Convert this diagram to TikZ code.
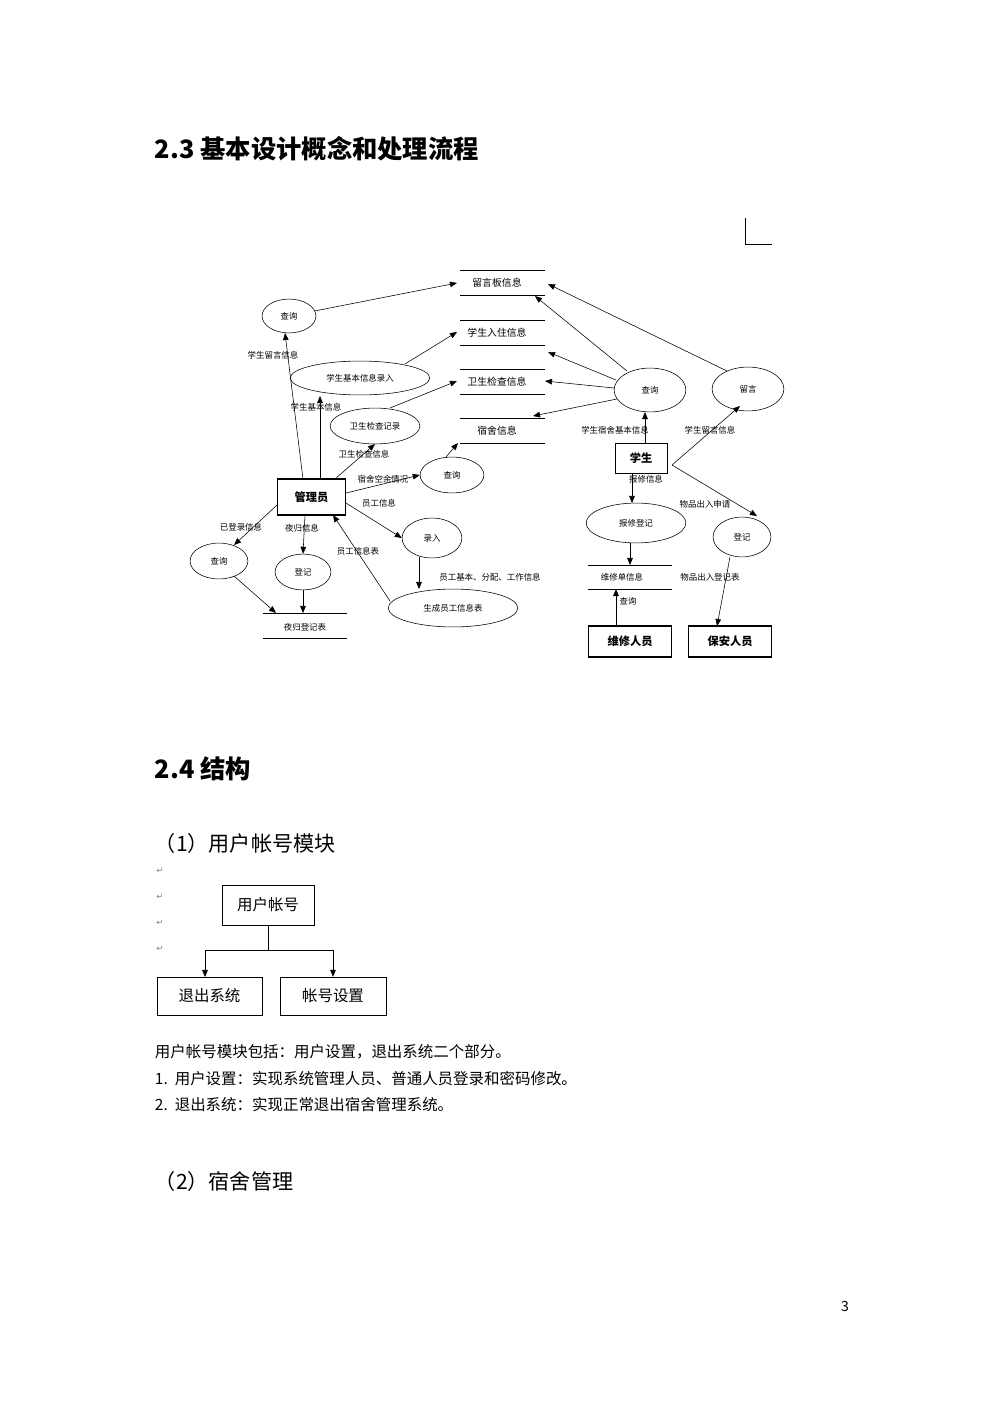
\documentclass[tikz,border=0pt]{standalone}
\usepackage{fontspec}
\setmainfont{Noto Sans CJK SC}
\newfontfamily\djvfont{DejaVu Sans}
\usetikzlibrary{arrows.meta,shapes.geometric}
\begin{document}
\begin{tikzpicture}[x=0.025cm,y=-0.025cm,
 el/.style={draw,ellipse,minimum width=#1,inner sep=0pt,font=\fontsize{6}{7}\selectfont},
 bx/.style={draw,thick,inner sep=0pt,font=\fontsize{8}{9}\selectfont\bfseries},
 lb/.style={font=\fontsize{6}{7}\selectfont,inner sep=0.5pt},
 ar/.style={-{Triangle[length=5pt,width=4pt]}},
 sb/.style={draw,rectangle,inner sep=0pt,font=\fontsize{11}{12}\selectfont}]
\useasboundingbox (0,0) rectangle (1000,1415);
\node[anchor=west,font=\fontsize{18}{20}\selectfont\bfseries] (h1) at (150,149) {2.3 基本设计概念和处理流程};
\draw (745,218) -- (745,244) -- (772,244);
% data stores
\foreach \n/\y/\t in {s1/270/留言板信息,s2/320/学生入住信息,s3/369/卫生检查信息,s4/418/宿舍信息}{
 \draw (460,\y) -- (545,\y) (460,\y+25) -- (545,\y+25);
 \node[lb,font=\fontsize{7}{8}\selectfont] (\n) at (497,\y+12.5) {\t};}
\coordinate (s1w) at (457,283); \coordinate (s2w) at (457,332); \coordinate (s3w) at (457,381); \coordinate (s4w) at (458,443);
\coordinate (s1e) at (548,284); \coordinate (s1e2) at (535,296); \coordinate (s2e) at (548,352); \coordinate (s3e) at (545,381); \coordinate (s4e) at (533,416);
\draw (263,613) -- (347,613) (263,638) -- (347,638);
\node[lb] (yg) at (305,627) {夜归登记表};
\draw (588,565) -- (672,565) (588,589) -- (672,589);
\node[lb] (wx) at (622,577) {维修单信息};
% left nodes
\node[el=54*0.709pt,minimum height=34*0.709pt] (q1) at (289,316) {查询};
\node[el=140*0.709pt,minimum height=34*0.709pt] (lr) at (360,378) {学生基本信息录入};
\node[el=90*0.709pt,minimum height=36*0.709pt] (ws) at (375,426) {卫生检查记录};
\node[el=64*0.709pt,minimum height=36*0.709pt] (q2) at (452,475) {查询};
\node[bx,minimum width=69*0.709pt,minimum height=36*0.709pt] (gl) at (311.5,497) {管理员};
\node[el=58*0.709pt,minimum height=36*0.709pt] (q3) at (219,561) {查询};
\node[el=56*0.709pt,minimum height=36*0.709pt] (dj) at (303,572) {登记};
\node[el=60*0.709pt,minimum height=40*0.709pt] (lu) at (432,538) {录入};
\node[el=130*0.709pt,minimum height=38*0.709pt] (sc) at (453,608) {生成员工信息表};
% right nodes
\node[el=72*0.709pt,minimum height=44*0.709pt] (q4) at (650,390) {查询};
\node[el=72*0.709pt,minimum height=44*0.709pt] (ly) at (748,389) {留言};
\node[bx,thin,minimum width=52*0.709pt,minimum height=30*0.709pt] (xs) at (641,458) {学生};
\node[el=100*0.709pt,minimum height=40*0.709pt] (bx) at (636,523) {报修登记};
\node[el=58*0.709pt,minimum height=40*0.709pt] (dj2) at (742,537) {登记};
\node[bx,minimum width=84*0.709pt,minimum height=31*0.709pt] (wr) at (630,641.5) {维修人员};
\node[bx,minimum width=84*0.709pt,minimum height=31*0.709pt] (ba) at (730,641.5) {保安人员};
% arrows left
\draw[ar] (303,479) -- (285,333);
\draw[ar] (320,479) -- (320,396);
\draw[ar] (405,364) -- (s2w);
\draw[ar] (390,408) -- (s3w);
\draw[ar] (335,479) -- (375,444);
\draw[ar] (346,493) -- (q2.west);
\draw[ar] (446,457) -- (s4w);
\draw[ar] (346,503) -- (lu.west);
\draw[ar] (419,557) -- (419,589);
\draw[ar] (390,601) -- (333,515);
\draw[ar] (305,515) -- (dj.north);
\draw[ar] (277,505) -- (234,545);
\draw[ar] (234,576) -- (276,613);
\draw[ar] (dj.south) -- (303,613);
\draw[ar] (q1) -- (s1w);
\node[lb] at (273,355) {学生留言信息};
\node[lb] at (316,407) {学生基本信息};
\node[lb] at (364,454) {卫生检查信息};
\node[lb] at (383,479) {宿舍空余情况};
\node[lb] at (379,503) {员工信息};
\node[lb] at (490,577) {员工基本、分配、工作信息};
\node[lb] at (358,551) {员工信息表};
\node[lb] at (302,528) {夜归信息};
\node[lb] at (241,527) {已登录信息};
% arrows right
\draw[ar] (645,443) -- (645,412);
\draw[ar] (627,371) -- (s1e2);
\draw[ar] (727,371) -- (s1e);
\draw[ar] (616,380) -- (s2e);
\draw[ar] (614,388) -- (s3e);
\draw[ar] (617,399) -- (s4e);
\draw[ar] (672,465) -- (740,406);
\draw[ar] (672,465) -- (757,516);
\draw[ar] (632,473) -- (632,503);
\draw[ar] (630,543) -- (630,565);
\draw[ar] (616,626) -- (616,589);
\draw[ar] (730,557) -- (717,626);
\node[lb] at (615,430) {学生宿舍基本信息};
\node[lb] at (710,430) {学生留言信息};
\node[lb] at (646,479) {报修信息};
\node[lb] at (705,504) {物品出入申请};
\node[lb] at (628,601) {查询};
\node[lb] at (710,577) {物品出入登记表};
% lower section
\node[anchor=west,font=\fontsize{18}{20}\selectfont\bfseries] (h2) at (150,769) {2.4 结构};
\node[anchor=west,font=\fontsize{15}{17}\selectfont] (h3) at (150,843) {（1）用户帐号模块};
\foreach \y in {871,897,923,949} \node[font=\djvfont\fontsize{6}{7}\selectfont,text=gray] at (160,\y) {↵};
\node[sb,minimum width=92*0.709pt,minimum height=40*0.709pt] (ua) at (268,905) {用户帐号};
\node[sb,minimum width=105*0.709pt,minimum height=38*0.709pt] (tc) at (209.5,996) {退出系统};
\node[sb,minimum width=106*0.709pt,minimum height=38*0.709pt] (zs) at (333,996) {帐号设置};
\coordinate (jn) at (268,950);
\draw (ua.south) -- (jn);
\draw[ar] (jn) -| (205,977);
\draw[ar] (jn) -| (zs.north);
\node[anchor=west,font=\fontsize{11}{13}\selectfont] at (150,1052) {用户帐号模块包括：用户设置，退出系统二个部分。};
\node[anchor=west,font=\fontsize{11}{13}\selectfont] at (150,1079) {1.\ \ 用户设置：实现系统管理人员、普通人员登录和密码修改。};
\node[anchor=west,font=\fontsize{11}{13}\selectfont] at (150,1105) {2.\ \ 退出系统：实现正常退出宿舍管理系统。};
\node[anchor=west,font=\fontsize{15}{17}\selectfont] at (150,1181) {（2）宿舍管理};
\node[font=\fontsize{10}{11}\selectfont] at (845,1306) {3};
\end{tikzpicture}
\end{document}
